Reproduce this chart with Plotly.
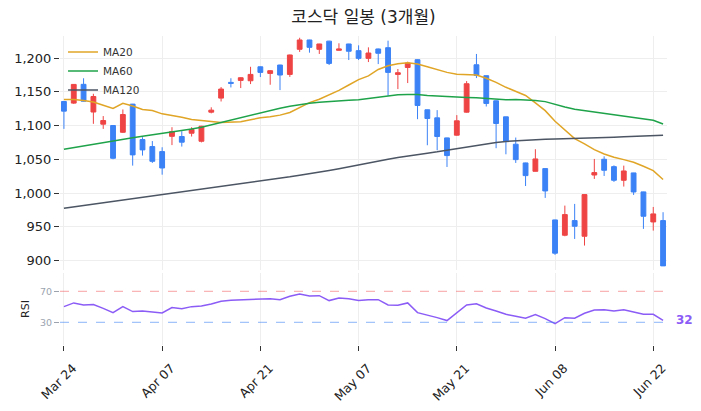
import plotly.graph_objects as go
from plotly.subplots import make_subplots

# ---------------- data ----------------
tick_labels = ["Mar 24", "Apr 07", "Apr 21", "May 07", "May 21", "Jun 08", "Jun 22"]
tick_index = [0, 10, 20, 30, 40, 50, 60]

opens = [1135.6, 1133.2, 1161.0, 1120.0, 1102.0, 1100.0, 1090.0, 1131.7, 1079.2, 1068.8,
         1061.4, 1084.0, 1083.7, 1088.6, 1076.7, 1119.8, 1140.6, 1163.9, 1166.8, 1166.3,
         1187.0, 1177.2, 1189.6, 1175.7, 1212.9, 1226.7, 1212.9, 1225.0, 1211.4, 1220.8,
         1210.9, 1199.5, 1213.4, 1215.3, 1175.7, 1186.0, 1197.5, 1123.3, 1111.4, 1081.7,
         1085.7, 1119.8, 1190.0, 1173.8, 1136.6, 1112.9, 1072.3, 1044.6, 1032.2, 1036.2,
         960.2, 937.5, 959.2, 936.0, 1026.7, 1050.0, 1039.1, 1018.9, 1029.8, 1001.7,
         957.2, 959.2]
highs = [1136.0, 1161.5, 1170.0, 1147.0, 1114.0, 1100.5, 1123.8, 1132.0, 1082.7, 1077.0,
         1067.8, 1097.5, 1091.6, 1097.5, 1099.5, 1127.0, 1157.0, 1170.0, 1171.5, 1187.0,
         1187.5, 1182.0, 1190.0, 1205.0, 1230.0, 1227.0, 1221.0, 1225.5, 1221.8, 1221.0,
         1218.8, 1215.8, 1214.0, 1225.7, 1183.7, 1194.6, 1198.0, 1123.5, 1122.8, 1082.0,
         1115.4, 1165.8, 1206.0, 1174.0, 1137.0, 1113.0, 1082.2, 1045.0, 1064.9, 1036.5,
         960.5, 981.4, 983.9, 998.0, 1050.5, 1054.4, 1041.0, 1040.6, 1030.0, 1002.0,
         979.4, 971.6]
lows = [1095.0, 1132.0, 1135.5, 1102.5, 1095.0, 1050.0, 1089.0, 1040.6, 1055.5, 1044.6,
        1027.2, 1071.0, 1068.8, 1083.7, 1075.0, 1118.0, 1135.6, 1156.4, 1155.5, 1161.4,
        1171.8, 1160.4, 1152.5, 1172.0, 1209.0, 1207.9, 1206.0, 1189.6, 1211.0, 1197.0,
        1197.0, 1194.0, 1191.0, 1144.0, 1154.0, 1162.9, 1109.4, 1070.8, 1063.4, 1038.6,
        1085.0, 1119.0, 1170.3, 1128.2, 1066.4, 1057.4, 1044.6, 1010.4, 1032.0, 992.8,
        908.4, 936.0, 932.0, 922.2, 1020.9, 1025.3, 1016.5, 1009.6, 997.2, 946.9,
        944.4, 892.0]
closes = [1121.3, 1160.9, 1136.0, 1143.0, 1107.4, 1051.5, 1116.3, 1056.5, 1063.9, 1047.0,
          1037.1, 1091.0, 1075.3, 1094.0, 1099.0, 1122.8, 1154.0, 1162.5, 1170.8, 1175.7,
          1178.7, 1181.2, 1174.8, 1204.5, 1226.7, 1215.8, 1220.8, 1192.0, 1213.4, 1210.0,
          1199.5, 1207.4, 1207.0, 1178.7, 1178.2, 1192.6, 1129.7, 1110.4, 1083.7, 1055.5,
          1107.0, 1161.9, 1174.3, 1132.7, 1103.0, 1076.3, 1049.5, 1025.8, 1050.5, 1003.1,
          910.9, 968.1, 950.8, 997.7, 1030.3, 1033.7, 1018.9, 1032.7, 1001.6, 965.6,
          969.1, 892.1]

ma20 = [1138.6, 1138.6, 1137.0, 1134.7, 1130.0, 1125.3, 1133.0, 1129.0, 1123.8, 1122.3,
        1117.3, 1115.0, 1112.4, 1109.0, 1107.0, 1106.0, 1104.5, 1104.5, 1105.5, 1108.5,
        1111.4, 1113.0, 1115.4, 1119.4, 1126.4, 1134.0, 1139.0, 1145.0, 1152.0, 1160.0,
        1168.0, 1173.6, 1183.0, 1188.6, 1191.6, 1193.0, 1191.0, 1187.0, 1183.0, 1178.7,
        1176.0, 1175.0, 1174.8, 1170.0, 1164.0, 1156.6, 1150.0, 1144.5, 1133.5, 1122.0,
        1106.3, 1093.4, 1080.6, 1072.7, 1064.3, 1057.9, 1053.0, 1049.5, 1045.6, 1039.6,
        1033.2, 1020.0]
ma60 = [1065.0, 1067.5, 1070.5, 1073.0, 1075.5, 1078.0, 1080.0, 1082.0, 1084.0, 1086.0,
        1088.5, 1090.5, 1092.5, 1095.0, 1097.5, 1101.0, 1105.0, 1109.0, 1112.4, 1115.4,
        1119.0, 1122.5, 1125.5, 1128.5, 1131.0, 1133.0, 1134.3, 1135.0, 1136.0, 1137.3,
        1138.3, 1140.0, 1142.0, 1144.0, 1145.5, 1146.0, 1146.0, 1144.5, 1143.5, 1142.5,
        1141.5, 1141.5, 1141.0, 1140.0, 1138.5, 1138.0, 1138.5, 1138.0, 1137.0, 1135.4,
        1131.0, 1127.5, 1124.0, 1122.0, 1120.0, 1118.6, 1116.6, 1114.0, 1112.0, 1110.0,
        1107.7, 1102.3]
ma120 = [977.5, 979.5, 981.5, 983.5, 985.5, 987.5, 989.5, 991.5, 993.0, 995.0,
         997.0, 999.0, 1001.0, 1003.0, 1005.0, 1007.0, 1009.0, 1011.0, 1013.5, 1015.5,
         1018.0, 1020.0, 1022.0, 1024.0, 1026.5, 1028.5, 1031.0, 1033.5, 1036.0, 1039.0,
         1041.5, 1044.5, 1047.5, 1050.0, 1052.5, 1055.0, 1057.0, 1059.0, 1061.0, 1063.5,
         1066.0, 1068.5, 1071.0, 1073.0, 1075.0, 1076.5, 1077.5, 1078.5, 1079.0, 1079.5,
         1080.0, 1080.3, 1080.7, 1081.0, 1081.5, 1082.0, 1082.8, 1083.5, 1084.2, 1084.8,
         1085.3, 1085.5]
rsi = [50.2, 55.0, 52.4, 52.8, 48.0, 42.5, 50.2, 43.8, 44.6, 43.3,
       42.0, 49.0, 47.6, 50.2, 51.0, 53.7, 57.1, 58.4, 58.8, 59.7,
       60.1, 60.5, 59.2, 63.5, 66.6, 64.0, 64.4, 58.0, 61.4, 60.3,
       58.0, 59.2, 59.2, 52.4, 52.0, 55.0, 42.5, 39.5, 36.0, 32.2,
       42.9, 52.4, 54.0, 48.5, 44.6, 40.3, 37.7, 35.2, 39.9, 34.7,
       28.3, 36.0, 35.2, 41.6, 45.9, 46.3, 44.6, 46.3, 43.3, 40.3,
       40.3, 32.4]

x = list(range(len(closes)))

RED = "#ef4444"
BLUE = "#3b82f6"
FONT = "DejaVu Sans, Noto Sans CJK KR, sans-serif"

fig = make_subplots(rows=2, cols=1, shared_xaxes=True)

fig.add_trace(go.Candlestick(
    x=x, open=opens, high=highs, low=lows, close=closes,
    increasing=dict(line=dict(color=RED, width=1), fillcolor=RED),
    decreasing=dict(line=dict(color=BLUE, width=1), fillcolor=BLUE),
    showlegend=False, name="KOSDAQ"), row=1, col=1)

fig.add_trace(go.Scatter(x=x, y=ma20, mode="lines", name="MA20",
                         line=dict(color="#e0a526", width=1.5)), row=1, col=1)
fig.add_trace(go.Scatter(x=x, y=ma60, mode="lines", name="MA60",
                         line=dict(color="#1fa34a", width=1.5)), row=1, col=1)
fig.add_trace(go.Scatter(x=x, y=ma120, mode="lines", name="MA120",
                         line=dict(color="#4b5563", width=1.5)), row=1, col=1)

fig.add_trace(go.Scatter(x=x, y=rsi, mode="lines", name="RSI", showlegend=False,
                         line=dict(color="#8b5cf6", width=1.5)), row=2, col=1)

fig.add_shape(type="line", xref="x2 domain", yref="y2", x0=0, x1=1, y0=70, y1=70,
              line=dict(color="rgba(239,68,68,0.5)", width=1, dash="dash"))
fig.add_shape(type="line", xref="x2 domain", yref="y2", x0=0, x1=1, y0=30, y1=30,
              line=dict(color="rgba(59,130,246,0.6)", width=1, dash="dash"))

fig.add_annotation(xref="x2 domain", yref="y2", x=1, y=rsi[-1], text="<b>%d</b>" % int(rsi[-1]),
                   showarrow=False, xanchor="left", xshift=7,
                   font=dict(color="#8b5cf6", size=12, family=FONT))

xr = [-0.4, 61.4]
fig.update_layout(
    width=701, height=411,
    margin=dict(l=60, r=34, t=36, b=66, autoexpand=False),
    paper_bgcolor="white", plot_bgcolor="white",
    font=dict(family=FONT, color="#333"),
    title=dict(text="코스닥 일봉 (3개월)", x=0.5, xref="paper", xanchor="center",
               y=1 - 17 / 411, yref="container", yanchor="middle",
               font=dict(size=17, color="#222", family=FONT)),
    legend=dict(x=0.005, y=0.995, xanchor="left", yanchor="top",
                bgcolor="rgba(0,0,0,0)", font=dict(size=10.5, color="#333")),
    showlegend=True,
    xaxis=dict(range=xr, rangeslider=dict(visible=False), tickvals=tick_index,
               ticktext=tick_labels, showticklabels=False, showgrid=True,
               gridcolor="#eeeeee", zeroline=False, automargin=False),
    xaxis2=dict(range=xr, tickvals=tick_index, ticktext=tick_labels, tickangle=-45,
                showgrid=True, gridcolor="#eeeeee", zeroline=False, automargin=False,
                ticks="outside", ticklen=5, tickcolor="#333",
                ticklabelshift=9, ticklabelstandoff=5,
                tickfont=dict(size=12.5, color="#222")),
    yaxis=dict(domain=[0.2427, 1], range=[886, 1232.6], dtick=50, tickformat=",",
               showgrid=True, gridcolor="#eeeeee", zeroline=False, automargin=False,
               ticks="outside", ticklen=5, tickcolor="#333",
               tickfont=dict(size=13, color="#222")),
    yaxis2=dict(domain=[0, 0.233], range=[0.7, 93.6], tickvals=[30, 70],
                showgrid=False, zeroline=False, automargin=False,
                ticks="outside", ticklen=5, tickcolor="#9ca3af",
                tickfont=dict(size=9.5, color="#9ca3af"),
                title=dict(text="RSI", font=dict(size=11, color="#222"), standoff=8)),
)

fig.write_html("out.html")
